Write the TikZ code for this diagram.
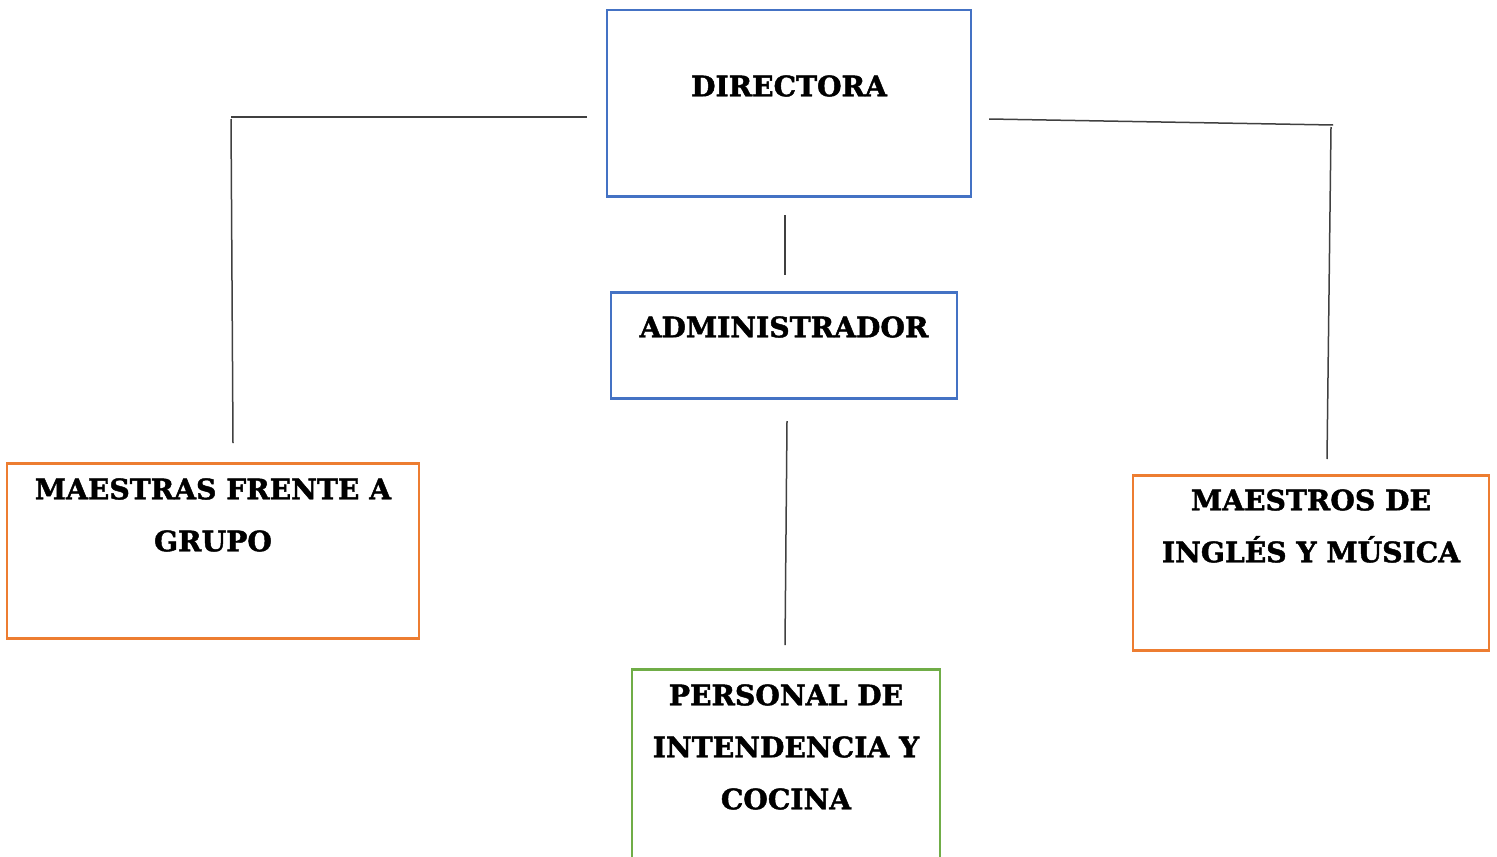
\documentclass[tikz,border=0pt]{standalone}
\usepackage{fontspec}
\setmainfont{DejaVu Serif}
\newfontfamily\gruesa[FakeBold=1.6]{DejaVu Serif Bold}
\definecolor{azul}{RGB}{68,114,196}
\definecolor{naranja}{RGB}{237,125,49}
\definecolor{verde}{RGB}{112,173,71}
\definecolor{linea}{RGB}{64,64,64}
\begin{document}
\begin{tikzpicture}[x=0.5pt,y=-0.5pt]
\tikzstyle{caja} = [rectangle, draw, line width=1.25pt, inner sep=0pt, anchor=north, align=center, font=\gruesa\fontsize{14.1}{26}\selectfont]
\tikzstyle{ln} = [draw=linea, line width=0.75pt]
\useasboundingbox (0,0) rectangle (1497,856);
\clip (0,0) rectangle (1497,856);
\node (Dir) [caja, draw=azul, minimum width=182pt, text height=43pt, text depth=50pt] at (789,9) {DIRECTORA};
\node (Adm) [caja, draw=azul, minimum width=173pt, text height=22.5pt, text depth=30.5pt] at (784,291) {ADMINISTRADOR};
\node (MG) [caja, draw=naranja, minimum width=206pt, text height=44pt, text depth=43.5pt] at (213,462) {MAESTRAS FRENTE A\\GRUPO};
\node (MIM) [caja, draw=naranja, minimum width=178pt, text height=43.5pt, text depth=44pt] at (1311,474) {MAESTROS DE\\INGLÉS Y MÚSICA};
\node (PIC) [caja, draw=verde, minimum width=154pt, text height=70pt, text depth=36pt] at (786,668) {PERSONAL DE\\INTENDENCIA Y\\COCINA};
\coordinate (L1) at (587,117);
\coordinate (L2) at (231,117);
\coordinate (L3) at (231,119);
\coordinate (L4) at (233,443);
\coordinate (R1) at (989,119);
\coordinate (R2) at (1333,125);
\coordinate (R3) at (1331,127);
\coordinate (R4) at (1327,459);
\coordinate (C1) at (785,215);
\coordinate (C2) at (785,275);
\coordinate (C3) at (787,421);
\coordinate (C4) at (785,645);
\draw[ln] (L1) -- (L2);
\draw[ln] (L3) -- (L4);
\draw[ln] (R1) -- (R2);
\draw[ln] (R3) -- (R4);
\draw[ln] (C1) -- (C2);
\draw[ln] (C3) -- (C4);
\end{tikzpicture}
\end{document}
